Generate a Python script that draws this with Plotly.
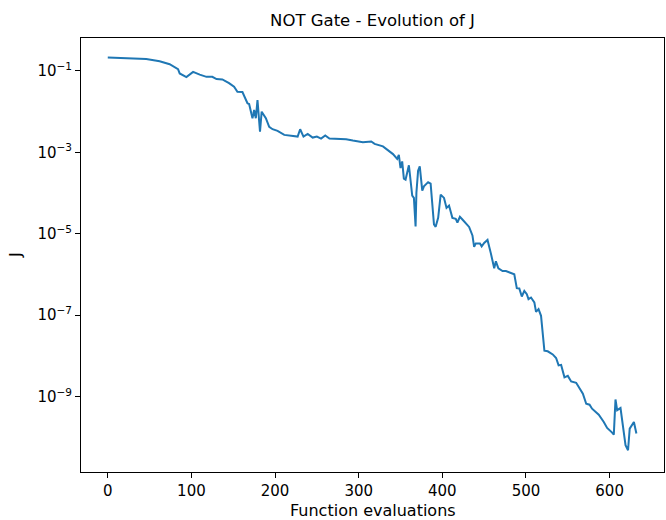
import plotly.graph_objects as go

# Function evaluations (x) and cost J (y)
evals = [0, 46, 62, 74, 84, 86, 94, 102, 110, 118, 125, 130, 137, 145, 151, 155, 161, 165, 167, 169,
         173, 175, 177, 179, 182, 184, 189, 193, 197, 203, 211, 227, 230, 234, 239, 245, 250, 255, 260, 265,
         285, 293, 305, 315, 319, 329, 335, 341, 346, 348, 350, 352, 354, 356, 360, 364, 366, 368, 369, 371,
         373, 376, 378, 383, 386, 390, 392, 395, 398, 402, 405, 408, 412, 416, 418, 421, 424, 428, 432, 436,
         438, 440, 445, 447, 450, 454, 456, 458, 462, 464, 467, 472, 476, 480, 486, 489, 492, 495, 498, 501,
         503, 506, 510, 512, 515, 518, 520, 522, 526, 532, 536, 539, 542, 546, 550, 554, 560, 564, 568, 572,
         576, 579, 584, 587, 593, 597, 603, 605, 607, 609, 613, 616, 619, 622, 624, 629, 632]
J = [0.213, 0.196, 0.173, 0.146, 0.110, 0.0863, 0.0702, 0.0946, 0.0807, 0.0713, 0.0713, 0.0627, 0.0617, 0.0500, 0.0406, 0.0307, 0.0302, 0.0192, 0.0160, 0.0153,
     0.00686, 0.0109, 0.00686, 0.0192, 0.00323, 0.00995, 0.00686, 0.0042, 0.00369, 0.00336, 0.00268, 0.00243, 0.00369, 0.00243, 0.00283, 0.0023, 0.00243, 0.00217, 0.00258, 0.00217,
     0.0021, 0.00194, 0.00177, 0.00184, 0.00161, 0.0014, 0.00115, 9.04e-4, 6.93e-4, 8.69e-4, 4.11e-4, 5.96e-4, 2.25e-4, 2.13e-4, 4.81e-4, 8.63e-5, 7.59e-5, 1.51e-5, 1.02e-4, 3.53e-4,
     4.5e-4, 1.15e-4, 1.46e-4, 1.85e-4, 1.7e-4, 1.69e-5, 1.48e-5, 2.46e-5, 9.14e-5, 7.59e-5, 4.32e-5, 4.92e-5, 2.46e-5, 2.33e-5, 1.89e-5, 2.61e-5, 2.24e-5, 1.79e-5, 1.47e-5, 9.08e-6,
     4.75e-6, 5.79e-6, 5.79e-6, 4.89e-6, 5.96e-6, 7.05e-6, 4.98e-6, 3.3e-6, 1.42e-6, 2.1e-6, 1.42e-6, 1.22e-6, 1.22e-6, 1.11e-6, 1.01e-6, 4.6e-7, 4.52e-7, 2.88e-7, 3.96e-7, 3.28e-7,
     2.48e-7, 2.72e-7, 2.06e-7, 1.21e-7, 1.41e-7, 9.66e-8, 3.79e-8, 1.35e-8, 1.3e-8, 1.09e-8, 8.93e-9, 5.86e-9, 6.03e-9, 2.98e-9, 3.24e-9, 2.36e-9, 2.19e-9, 1.56e-9, 1.18e-9, 6.7e-10,
     6.34e-10, 5.06e-10, 4.2e-10, 3.6e-10, 2.39e-10, 1.71e-10, 1.31e-10, 1.17e-10, 8.53e-10, 4.65e-10, 5.26e-10, 1.98e-10, 6.41e-11, 4.84e-11, 1.64e-10, 2.39e-10, 1.24e-10]

x_ticks = [0, 100, 200, 300, 400, 500, 600]
y_tick_vals = [1e-1, 1e-3, 1e-5, 1e-7, 1e-9]
y_tick_text = ["10<sup>\u22121</sup>", "10<sup>\u22123</sup>", "10<sup>\u22125</sup>",
               "10<sup>\u22127</sup>", "10<sup>\u22129</sup>"]

title_text = "NOT Gate - Evolution of J"
x_label = "Function evaluations"
y_label = "J"

FONT = "DejaVu Sans, sans-serif"

fig = go.Figure()
fig.add_trace(go.Scatter(x=evals, y=J, mode="lines",
                         line=dict(color="#1f77b4", width=2), showlegend=False))

axis_common = dict(showline=True, linecolor="black", linewidth=1, mirror=True,
                   ticks="outside", ticklen=5, tickwidth=1, tickcolor="black",
                   showgrid=False, zeroline=False,
                   tickfont=dict(family=FONT, size=15, color="black"))

fig.update_layout(
    width=666, height=520,
    margin=dict(l=81, r=2, t=38, b=48),
    paper_bgcolor="white", plot_bgcolor="white",
    font=dict(family=FONT, color="black"),
    title=dict(text=title_text, x=0.5, xref="paper", xanchor="center",
               y=1 - 20 / 520, yref="container", yanchor="middle",
               font=dict(family=FONT, size=16.5, color="black")),
    xaxis=dict(range=[-32, 665], tickvals=x_ticks, **axis_common),
    yaxis=dict(type="log", range=[-10.85, -0.193], tickvals=y_tick_vals,
               ticktext=y_tick_text, **axis_common),
    annotations=[
        dict(text=x_label, xref="paper", yref="paper", x=0.5, y=-38 / 434,
             xanchor="center", yanchor="middle", showarrow=False,
             font=dict(family=FONT, size=16, color="black")),
        dict(text=y_label, xref="paper", yref="paper", x=-66 / 583, y=0.5,
             xanchor="center", yanchor="middle", showarrow=False, textangle=-90,
             font=dict(family=FONT, size=16, color="black")),
    ],
)

fig.write_html("out.html", config={"displayModeBar": False},
               post_script="document.body.style.margin='0';document.body.style.padding='0';")
